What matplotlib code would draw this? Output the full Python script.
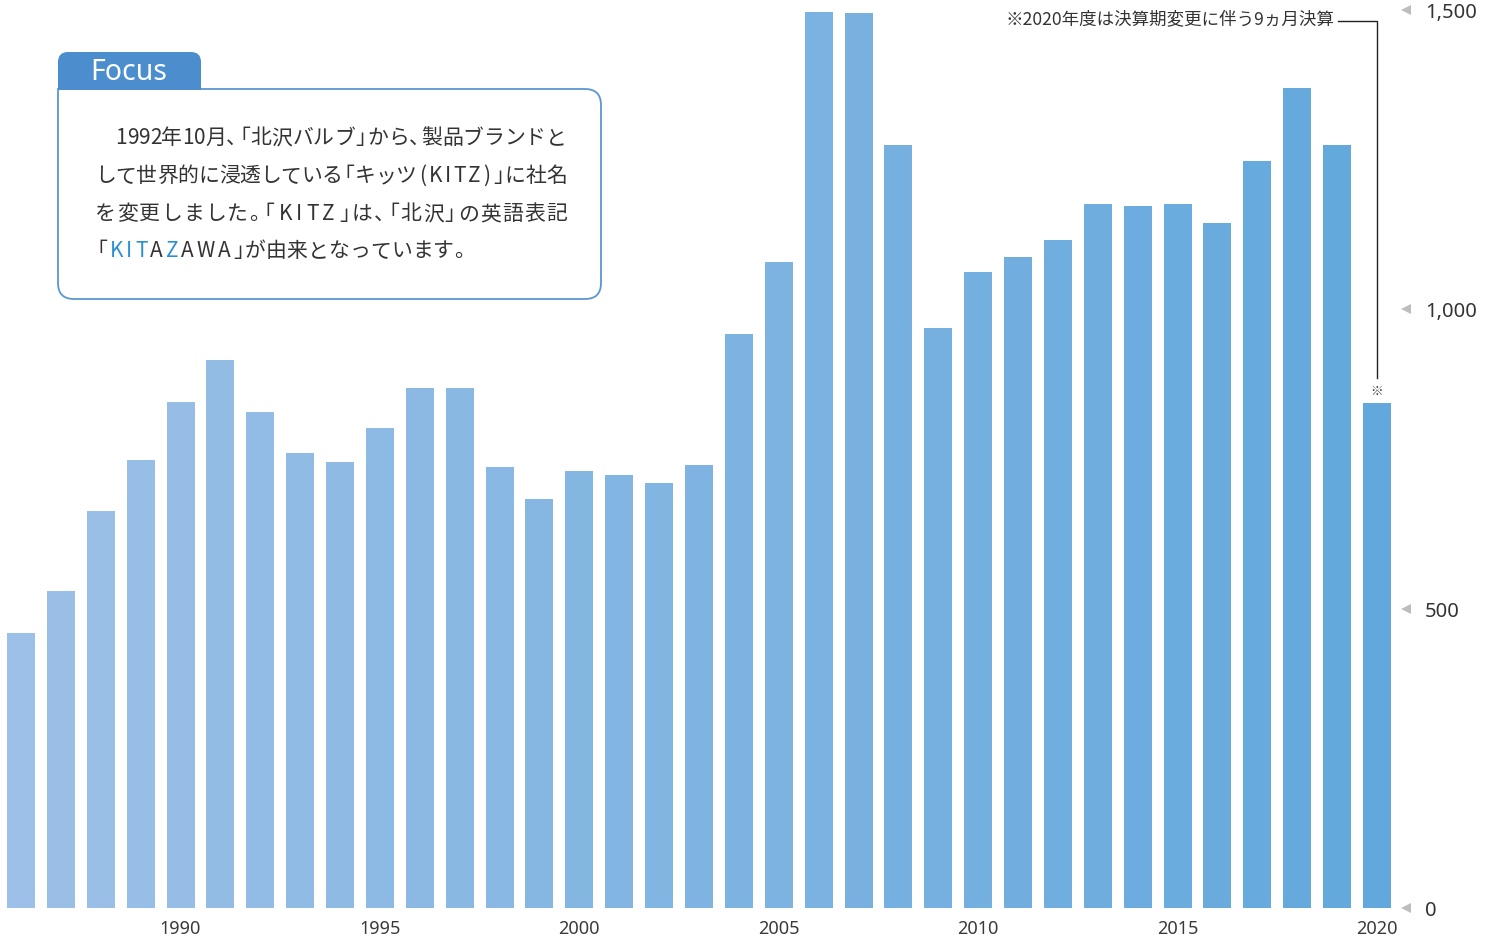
import numpy as np
import matplotlib
matplotlib.use("Agg")
import matplotlib.pyplot as plt
from matplotlib.path import Path
from matplotlib.patches import PathPatch
from matplotlib.colors import to_rgb
import matplotlib.transforms as mtransforms

plt.rcParams['font.family'] = ['Noto Sans CJK JP', 'DejaVu Sans']

years = list(range(1986, 2021))
values = [459, 529, 663, 748, 845, 915, 828, 760, 745, 802,
          869, 869, 737, 683, 730, 723, 710, 740, 959, 1079,
          1497, 1495, 1274, 969, 1062, 1087, 1116, 1176, 1173, 1176,
          1144, 1248, 1370, 1274, 843]
xtick_years = [1990, 1995, 2000, 2005, 2010, 2015, 2020]
ytick_vals = [0, 500, 1000, 1500]
ytick_labels = ["0", "500", "1,000", "1,500"]
note_text = "※2020年度は決算期変更に伴う9ヵ月決算"
focus_title = "Focus"
DARK = "#333333"
BLUE = "#2b8fd6"
focus_lines = [
    [("1992年10月、「北沢バルブ」から、製品ブランドと", DARK)],
    [("して世界的に浸透している「キッツ(KITZ)」に社名", DARK)],
    [("を変更しました。「KITZ」は、「北沢」の英語表記", DARK)],
    [("「", DARK), ("KIT", BLUE), ("A", DARK), ("Z", BLUE),
     ("AWA」が由来となっています。", DARK)],
]
justify = [True, True, True, False]

W, H = 1489, 941
fig = plt.figure(figsize=(W / 100, H / 100), dpi=100)

px_per_year = (1377 - 21) / 34
ax_left_px, ax_right_px = 0, 1395
ax_bottom_px, ax_top_px = 908, 10
ax = fig.add_axes([ax_left_px / W, 1 - ax_bottom_px / H,
                   (ax_right_px - ax_left_px) / W, (ax_bottom_px - ax_top_px) / H])
ax.set_xlim(1986 - (21 - ax_left_px) / px_per_year,
            2020 + (ax_right_px - 1377) / px_per_year)
ax.set_ylim(0, 1500)

c0 = np.array(to_rgb("#9cc0e7"))
c1 = np.array(to_rgb("#62a8dc"))
n = len(years)
colors = [tuple(c0 + (c1 - c0) * i / (n - 1)) for i in range(n)]
ax.bar(years, values, width=28 / px_per_year, color=colors, clip_on=False, zorder=2)

for s in ax.spines.values():
    s.set_visible(False)
ax.set_yticks([])
ax.set_xticks(xtick_years)
ax.set_xticklabels([str(y) for y in xtick_years], fontsize=13, color="#3a3a3a",
                   family=['Noto Sans', 'DejaVu Sans'])
ax.tick_params(axis='x', length=0, pad=9)

# right-side value labels with triangles
trans = mtransforms.blended_transform_factory(fig.transFigure, ax.transData)
trans_lab = mtransforms.offset_copy(trans, fig=fig, x=0, y=-3, units='dots')
for v, lab in zip(ytick_vals, ytick_labels):
    ax.plot([1406 / W], [v], marker='<', markersize=7, color="#bdbdbd",
            markeredgewidth=0, transform=trans, clip_on=False)
    ax.text(1425 / W, v, lab, transform=trans_lab, ha='left', va='center',
            fontsize=14.5, color=DARK, family=['Noto Sans', 'DejaVu Sans'])

# annotation for 2020
y_top_note = 1482
y_bot_note = 885
ax.plot([2020 - 39 / px_per_year, 2020, 2020], [y_top_note, y_top_note, y_bot_note],
        color="#222222", lw=1.0, clip_on=False)
ax.text(2020 - 43 / px_per_year, y_top_note + 2, note_text, ha='right', va='center',
        fontsize=12.6, color=DARK)
ax.text(2020, 863, "※", ha='center', va='center', fontsize=9, color=DARK)

# overlay axes in pixel coords
ov = fig.add_axes([0, 0, 1, 1])
ov.set_xlim(0, W)
ov.set_ylim(H, 0)
ov.axis('off')


def rpath(x0, y0, x1, y1, rtl, rtr, rbr, rbl):
    verts = [(x0 + rtl, y0), (x1 - rtr, y0), (x1, y0), (x1, y0 + rtr),
             (x1, y1 - rbr), (x1, y1), (x1 - rbr, y1),
             (x0 + rbl, y1), (x0, y1), (x0, y1 - rbl),
             (x0, y0 + rtl), (x0, y0), (x0 + rtl, y0), (x0 + rtl, y0)]
    codes = [Path.MOVETO, Path.LINETO, Path.CURVE3, Path.CURVE3,
             Path.LINETO, Path.CURVE3, Path.CURVE3,
             Path.LINETO, Path.CURVE3, Path.CURVE3,
             Path.LINETO, Path.CURVE3, Path.CURVE3, Path.CLOSEPOLY]
    return Path(verts, codes)


ov.add_patch(PathPatch(rpath(58, 89, 601, 299, 0, 16, 16, 16),
                       facecolor='white', edgecolor="#5a96d2", lw=1.3))
ov.add_patch(PathPatch(rpath(58, 52, 201, 90, 10, 10, 0, 0),
                       facecolor="#4b8dcd", edgecolor='none'))
ov.text(129, 72, focus_title, ha='center', va='center', fontsize=20.5, color='white',
        family=['Noto Sans', 'DejaVu Sans'])

FS = 15
OPEN = "「"
CLOSE = "」、。"
SQ = 0.42 * FS      # squeeze for half-width punctuation (points)
TRACK = 2.0         # extra tracking around latin letters (points)
RIGHT_EDGE = 567    # pixel right edge for justified lines


def is_latin(c):
    return c.isascii() and (c.isalpha() or c in "()")


def draw_line(x, y, parts):
    chars = [(ch, col) for text, col in parts for ch in text]
    anns = []
    base = []
    prev = None
    prev_ch = ""
    for ch, col in chars:
        dx = 0.0
        if ch in OPEN:
            dx -= SQ
        if prev_ch and prev_ch in CLOSE:
            dx -= SQ
        if prev_ch and (is_latin(ch) or is_latin(prev_ch)):
            dx += TRACK
        if prev is None:
            prev = ov.annotate(ch, xy=(x, y), xycoords='data', xytext=(dx, 0),
                               textcoords='offset points', ha='left', va='center',
                               fontsize=FS, color=col)
        else:
            prev = ov.annotate(ch, xy=(1, 0), xycoords=prev, xytext=(dx, 0),
                               textcoords='offset points', ha='left', va='bottom',
                               fontsize=FS, color=col)
        anns.append(prev)
        base.append(dx)
        prev_ch = ch
    return anns, base


line_y = [138, 176, 214, 251]
line_x = [115, 95, 95, 95]
all_lines = []
for x, y, parts in zip(line_x, line_y, focus_lines):
    all_lines.append(draw_line(x, y, parts))

fig.canvas.draw()
renderer = fig.canvas.get_renderer()
for (anns, base), do_j in zip(all_lines, justify):
    if not do_j:
        continue
    bb = anns[-1].get_window_extent(renderer)
    deficit_px = RIGHT_EDGE - bb.x1
    extra_pt = deficit_px * 72 / fig.dpi / (len(anns) - 1)
    for a, b in zip(anns[1:], base[1:]):
        a.xyann = (b + extra_pt, 0)

fig.savefig("out.png", dpi=100)
